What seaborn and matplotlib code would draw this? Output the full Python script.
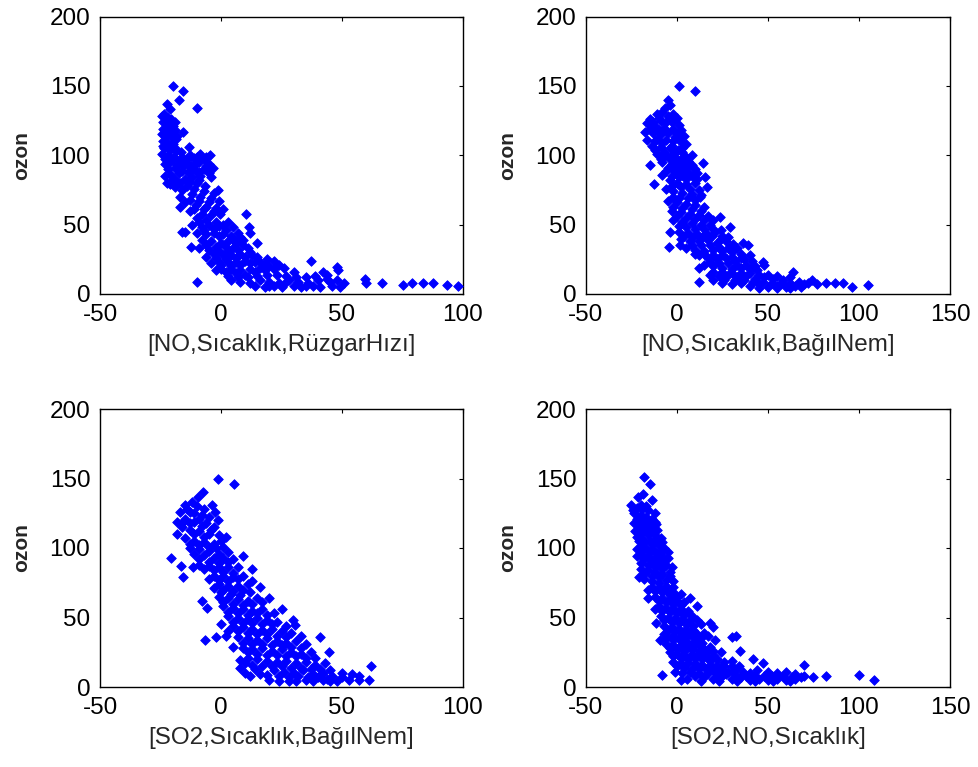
import matplotlib
matplotlib.use("Agg")
import matplotlib.pyplot as plt
import seaborn as sns
import pandas as pd

# ---------------- data ----------------
p1 = [(-19.7,150),(-15.6,146),(-17.4,140),(-10.1,134),(-22.2,137),(-21,133),(-23.5,130),(-24.5,128),(-22,127),(-20.5,126),
      (-24,124),(-22.5,122),(-20,121),(-23.8,119),(-21.5,118),(-19,118),(-15.6,117),(-24.5,115),(-22.6,114),(-20.4,113),
      (-18.5,112),(-24,110),(-22,109),(-19.8,108),(-13.1,106),(-23.5,105),(-21,104),(-18.7,103),(-16.5,102),(-24.2,101),
      (-22,100),(-19.5,99),(-8.7,101),(-4.5,100),(-6,99),(-11,98),(-14,97),(-17,96),(-21,95),(-23,94),(-9,95),(-5,94),
      (-12.5,93),(-15.5,92),(-19,91),(-22,90),(-7,90),(-3.5,91),(-10.5,89),(-13.5,88),(-17.5,87),(-20.5,86),(-23,85),
      (-8.5,85),(-12,84),(-15,83),(-18.5,82),(-22.5,80),(-21,79),(-19,77),(-14,78),(-10,80),(-6.5,78),(-1.1,75),(-17,70),
      (-12,72),(-8.5,70),(-4,69),(-15,66),(-17,63),(-10.5,64),(-6,63),(-2,62),(-13,60),(-8,58),(-4,57),(-0.5,58),(-10,55),
      (-6,53),(-2,52),(1,50),(-12,50),(-8,48),(-3,47),(2,46),(-16,45),(-15,45),(-10,44),(-6,43),(-1,42),(4,42),(7,44),
      (10.2,57.5),(11.6,48),(12,44),(-12.5,34),(-8,39),(-4,38),(0,37),(3,38),(6,37),(9,39),(14.7,36.5),(-9,33),(-5,32),
      (-1,31),(3,31),(7,32),(11,33),(-6,27),(-2,26),(2,25),(6,26),(10,27),(13,28),(-10,9),(-4,22),(0,21),(4,20),(8,21),
      (12,22),(16,23),(19,25),(22,24),(-2,17),(2,16),(6,15),(10,14),(14,16),(18,17),(22,18),(26,19),(30,16),(37,23.7),
      (4,10),(8,9),(12,8),(16,10),(20,9),(24,8),(28,10),(32,9),(36,8),(40,10),(42,16),(43.7,13.7),(47.8,19.7),(48.2,17),
      (45,9),(51,8),(20,6),(25,5),(30,6),(35,6),(59.5,11),(60,7.7),(66.4,7.7),(75.3,6.5),(78.8,7.7),(83.6,7.7),(87.5,8.2),
      (93.2,6.5),(98,5.8),
      (-23,127),(-21.5,124),(-19,124),(-23,116),(-21,115),(-18,114),(-24,107),(-21.5,106),(-19,105),(-23,97),(-20,97),
      (-16,99),(-13,100),(-10,99),(-7,97),(-18,93),(-14,94),(-11,92),(-6,92),(-16,89),(-12,90),(-9,88),(-5,87),(-20,83),
      (-17,80),(-13,81),(-9,82),(-4,84),(-16,75),(-11,76),(-7,74),(-3,73),(-13,68),(-9,67),(-5,66),(-1,67),(-11,61),
      (-7,61),(-3,60),(1,61),(-9,52),(-5,50),(-1,49),(3,52),(5,48),(-7,46),(-3,44),(1,43),(5,40),(8,41),(-6,35),(-2,34),
      (2,34),(5,33),(9,35),(12,30),(-3,29),(1,28),(4,28),(8,29),(15,27),(-1,23),(3,23),(6,23),(10,24),(14,23),(18,21),
      (0,18),(4,18),(8,17),(12,18),(16,19),(20,20),(24,21),(3,13),(7,12),(11,12),(15,13),(19,14),(23,14),(27,13),(31,12),
      (35,12),(39,13),(44,11),(48,10),(14,6),(18,5),(22,6),(26,7),(33,5),(38,6),(41,5),(46,6),(49,5)]
p1_x = [a for a, b in p1]
p1_y = [b for a, b in p1]

p2 = [(1.3,150),(9.9,146),(-4.8,140),(-3.8,136),(-6.6,134),(-8.4,131),(-11,130),(-2,130),(-5,128),(0,127),(-14.8,126),
      (-9,125),(-3,124),(1,122),(-16.7,123),(-12,121),(-7,120),(-2,119),(2,118),(-17.6,117),(-13,116),(-9,115),(0,115.6),
      (4,114),(-16.7,111),(-11,112),(-6,111),(-2,110),(1.6,110),(5,108),(-14,107),(-9,106),(-4,105),(0.7,104),(3,102),
      (8,100),(-11,101),(-6,100),(-1,99),(2,97),(6,96),(-8,95),(-3,94),(-14.8,93),(1,92),(5,91),(10,90),(14.5,94.5),
      (-6,89),(-1,88),(3,86),(8,85),(15.4,84),(-4,82),(0,80),(5,79),(10,80),(-12.6,79),(16.3,77),(-6,76),(-2,74),(3,73),
      (8,72),(13,71),(12.6,70),(-5,67),(0,66),(5,65),(10,64),(15,63),(-3,60),(2,59),(7,58),(12,57),(17,56),(23.6,55.6),
      (-2,53),(3,52),(8,51),(13,50),(18,50),(29,48),(-3.8,45),(1,45),(6,44),(11,43),(16,44),(21,45),(25,42),(2,40),(7,38),
      (12,38),(17,39),(22,37),(27,38),(31,36),(36.4,36.5),(39,35),(-4.2,34),(1.6,35),(5,33),(10,32),(15,31),(20,32),
      (25,31),(30,30),(35,29),(12,28),(17,26),(22,25),(27,26),(32,24),(37,25),(41,24),(47.4,23),(48,21),(15,21),(20,20),
      (25,19),(30,18),(35,19),(40,18),(44,17),(12.3,18.5),(18,14),(23,13),(28,14),(33,12),(38,13),(43,11),(48,12),(53,11),
      (58,10),(64,16),(62,12),(12.1,8.4),(25,8),(30,7),(35,8),(40,6),(45,7),(50,5),(55,6),(60,5),(65,6),(70,7),(74,10),
      (82,8),(86.8,8),(91.4,8),(96,4.8),(105,6.5),
      (-10,127),(-6,124),(-13,124),(-1,126),(-15,119),(-10,118),(-5,116),(-1,113),(-12,110),(-8,109),(-3,107),(3,105),
      (-12,104),(-7,102),(-2,101),(5,99),(-9,97),(-4,97),(0,95),(4,94),(8,93),(-5,91),(-2,91),(2,89),(6,88),(11,87),
      (-8,86),(-3,85),(1,84),(5,83),(11,83),(-3,78),(2,77),(7,76),(12,75),(-2,70),(1,69),(6,69),(10,68),(-2,63),(3,62),
      (8,61),(13,60),(0,56),(5,55),(10,54),(15,53),(20,53),(1,49),(5,48),(10,47),(15,47),(20,47),(24,46),(4,42),(9,41),
      (14,41),(19,42),(24,40),(28,41),(8,35),(13,35),(18,35),(23,34),(28,33),(33,33),(10,29),(15,29),(20,28),(25,28),
      (30,27),(35,26),(40,28),(18,23),(23,22),(28,22),(33,21),(38,21),(43,20),(20,16),(25,16),(30,15),(35,15),(40,15),
      (45,14),(50,14),(55,13),(20,10),(26,10),(32,10),(37,10),(42,9),(47,9),(52,8),(57,8),(62,8),(67,9),(72,8),(77,7),
      (45,4),(55,4),(62,4),(68,5)]
p2_x = [a for a, b in p2]
p2_y = [b for a, b in p2]

p3 = [(-1.1,150),(5.5,146),(-7.3,140),(-9.4,137),(-12.1,133),(-14.9,131),(-17,126),(-18,119),(-18,110),(-3.9,131),
      (-2.5,126),(-1.1,120),(-10,130),(-13,126),(-8,124),(-15,121),(-11,119),(-6,118),(-3,115),(-16,115),(-13,113),(-9,112),
      (-5,110),(-1,109),(2,108),(-15,107),(-11,105),(-7,104),(-3,103),(1,101),(-13,100),(-9,99),(-5,98),(-1,96),(3,97),
      (-20.7,93),(-16.5,87),(-15.6,79),(-11.7,86),(-9,92),(-5,90),(-1,89),(3,90),(9,94.5),(-7,85),(-3,84),(1,83),(5,82),
      (13,85),(-5,78),(-1,77),(3,76),(7,78),(11,74),(-3,71),(1,70),(5,69),(9,70),(16,72),(-1,65),(3,64),(7,63),(11,62),
      (15,64),(20,64),(-7.7,62),(-5.9,57),(1,58),(5,57),(9,56),(13,55),(17,56),(25,56),(3,51),(7,50),(11,49),(15,50),
      (19,48),(23,47),(29.6,48),(30.6,44.6),(0,45),(5,44),(9,43),(13,42),(17,41),(21,42),(25,40),(29,39),(-6.6,34),(-2,36),
      (2,37),(7,36),(11,35),(15,34),(19,35),(23,33),(27,32),(31,33),(35,31),(41,36),(5,29),(9,28),(13,27),(17,28),(21,26),
      (25,27),(29,25),(33,24),(37,25),(44.8,25),(8,19.4),(8,14),(11,21),(15,20),(19,19),(23,18),(27,19),(31,17),(35,18),
      (39,16),(43,17),(10,10),(14,13),(19,8.6),(22,12),(26,11),(30,10),(34,12),(38,9),(42,10),(46,8),(50,7),(54,9),(57,8),
      (61.8,15),(61.3,5),(20,5),(28,4),(35,5),(42,5),(48,4),
      (-14,128),(-11,125),(-7,128),(-5,122),(-9,121),(-13,118),(-16,118),(-8,116),(-4,113),(-11,110),(-7,108),(0,105),
      (-13,103),(-9,102),(-5,101),(-2,100),(-11,96),(-7,95),(-3,93),(1,93),(5,92),(-9,88),(-5,87),(-1,86),(3,86),(7,86),
      (-3,80),(1,80),(5,79),(9,80),(-1,74),(3,73),(7,73),(13,76),(0,68),(4,67),(8,66),(12,68),(1,61),(5,60),(9,59),(13,60),
      (17,61),(3,54),(7,53),(11,52),(15,53),(19,52),(22,53),(5,47),(9,46),(13,46),(17,45),(21,45),(27,44),(3,40),(7,40),
      (11,39),(15,38),(19,38),(23,37),(27,36),(33,37),(9,32),(13,31),(17,31),(21,30),(25,30),(29,29),(33,28),(11,25),
      (15,24),(19,23),(23,23),(27,22),(31,22),(35,21),(39,21),(10,17),(13,16),(17,15),(21,15),(25,15),(29,14),(33,14),
      (37,13),(41,13),(45,12),(12,8),(16,9),(24,8),(28,7),(32,8),(36,7),(40,7),(44,6),(50,10),(53,5),(57,5),(24,4),(31,4),
      (38,4),(45,4)]
p3_x = [a for a, b in p3]
p3_y = [b for a, b in p3]

p4 = [(-18,151),(-14.8,146),(-18.5,139),(-21.2,137),(-14,134.5),(-25,131),(-22,129),(-19,128),(-16,127),(-23.5,125),
      (-20,124),(-17,122),(-14,121),(-23.6,118),(-20,118),(-11.5,117),(-17,116),(-14,114),(-23,112),(-20,111),(-16,110),
      (-12,109),(-9,107),(-21,105),(-18,104),(-14,103),(-10,102),(-7,100),(-22,99),(-19,98),(-15,97),(-11,96),(-4.8,93),
      (-8,94),(-22,94),(-18,92),(-14,91),(-10,89),(-6,88),(-3,86),(-20,85),(-16,84),(-12,83),(-8,81),(-4,80),(-21,79),
      (-18,78),(-14,76),(-10,75),(-6,73),(-2,72),(-16,70),(-12,69),(-8,68),(-4,66),(0,65),(7,64),(-15.7,64),(-10,62),
      (-6,61),(-2,60),(2,59),(11,58),(-12,56),(-8,55),(-4,54),(0,53),(4,52),(8,51),(-11.5,46),(-7,48),(-3,47),(1,46),
      (5,45),(9,44),(13,45),(18,46),(20,43),(-5,41),(-1,40),(3,39),(7,38),(11,38),(15,39),(-9.3,34),(-6,35),(-2,34),
      (2,33),(6,32),(10,33),(14,32),(21,34),(30,36),(32.6,37),(-4,28),(0,27),(4,26),(8,27),(12,26),(16,25),(20,26),
      (24,25),(34.6,26),(-2,22),(2,21),(6,20),(10,21),(14,20),(18,19),(22,20),(26,18),(30,19),(41.6,20),(47.4,17),
      (70,16),(0,15),(4,14),(8,13),(12,14),(16,13),(20,12),(24,13),(28,11),(32,12),(36,11),(40,10),(44,12),(50,11),
      (55,10),(60,11),(65,9),(-8.4,8.6),(5.3,6),(10,8),(15,7),(20,6),(25,8),(30,6),(35,7),(40,5),(45,6),(50,5),(55,6),
      (60,5),(65,6),(70,8),(75,7),(82,8),(100,8.6),(108,5),
      (-24,127),(-20,131),(-17,130),(-12,125),(-22,121),(-18,120),(-15,118),(-12,119),(-21,115),(-18,113),(-15,112),
      (-11,113),(-22,108),(-19,107),(-15,106),(-12,105),(-8,104),(-20,101),(-17,100),(-13,99),(-9,98),(-5,97),(-20,96),
      (-16,94),(-12,93),(-8,91),(-20,89),(-16,88),(-12,86),(-8,85),(-4,83),(-18,81),(-14,80),(-10,79),(-6,77),(-2,76),
      (-14,72),(-10,71),(-6,70),(-2,68),(2,67),(-12,65),(-8,64),(-4,63),(0,62),(4,61),(-10,58),(-6,57),(-2,57),(2,56),
      (6,55),(-9,51),(-5,50),(-1,50),(3,49),(7,48),(11,48),(-7,44),(-3,43),(1,42),(5,42),(9,41),(-7,38),(-3,37),(1,36),
      (5,36),(9,36),(13,35),(17,37),(-6,31),(-2,30),(2,30),(6,29),(10,30),(14,29),(18,29),(-4,25),(0,24),(4,23),(8,24),
      (12,23),(16,22),(20,23),(-2,18),(2,17),(6,17),(10,17),(14,16),(18,16),(22,16),(26,15),(30,15),(34,15),(-1,11),
      (3,10),(7,11),(12,10),(17,10),(22,9),(27,9),(32,9),(38,8),(43,8),(48,8),(52,8),(58,8),(63,7),(68,7),(2,5),(13,4),
      (23,4),(33,4),(43,4),(53,4),(62,4)]
p4_x = [a for a, b in p4]
p4_y = [b for a, b in p4]

xlabels = ["[NO,Sıcaklık,RüzgarHızı]", "[NO,Sıcaklık,BağılNem]",
           "[SO2,Sıcaklık,BağılNem]", "[SO2,NO,Sıcaklık]"]
ylabel = "ozon"
xlims = [(-50, 100), (-50, 150), (-50, 100), (-50, 150)]
xticks = [[-50, 0, 50, 100], [-50, 0, 50, 100, 150], [-50, 0, 50, 100], [-50, 0, 50, 100, 150]]
yticks = [0, 50, 100, 150, 200]

# ---------------- plotting ----------------
sns.set_style("white")
plt.rcParams["font.family"] = ["Liberation Sans", "DejaVu Sans"]
plt.rcParams["axes.unicode_minus"] = False

fig = plt.figure(figsize=(9.79, 7.67), dpi=100)
positions = [
    [100/979, 1-294/767, 363/979, 277.5/767],
    [586/979, 1-294/767, 364/979, 277.5/767],
    [100/979, 1-687/767, 363/979, 278/767],
    [586/979, 1-687/767, 364/979, 278/767],
]
series = [(p1_x, p1_y), (p2_x, p2_y), (p3_x, p3_y), (p4_x, p4_y)]

for i in range(4):
    ax = fig.add_axes(positions[i])
    df = pd.DataFrame({"x": series[i][0], "y": series[i][1]})
    sns.scatterplot(data=df, x="x", y="y", ax=ax, marker="D", color="#0000ff",
                    edgecolor="#0000ff", linewidth=0.6, s=24, zorder=3)
    ax.set_xlim(*xlims[i])
    ax.set_ylim(0, 200)
    ax.set_xticks(xticks[i])
    ax.set_yticks(yticks)
    ax.tick_params(direction="in", top=True, right=True, length=3, width=0.8,
                   labelsize=17.5, pad=7, colors="black")
    for sp in ax.spines.values():
        sp.set_visible(True)
        sp.set_color("black")
        sp.set_linewidth(1.0)
    ax.set_xlabel(xlabels[i], fontsize=17.5, labelpad=6)
    ax.set_ylabel(ylabel, fontsize=15, fontweight="bold", labelpad=13)

fig.savefig("out.png", dpi=100)
